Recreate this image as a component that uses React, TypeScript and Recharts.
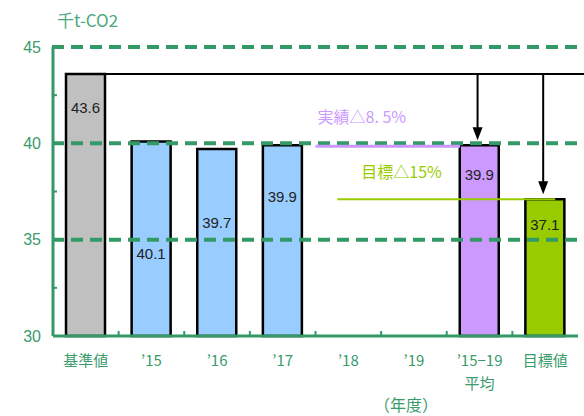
import React from 'react';
import {
  BarChart,
  Bar,
  XAxis,
  YAxis,
  Cell,
  LabelList,
  ReferenceLine,
} from 'recharts';

const categories = ['基準値', '’15', '’16', '’17', '’18', '’19', '’15−19 平均', '目標値'];
const emissions: (number | null)[] = [43.6, 40.1, 39.7, 39.9, null, null, 39.9, 37.1];
const barColors = ['#c0c0c0', '#99ccff', '#99ccff', '#99ccff', '#99ccff', '#99ccff', '#cc99ff', '#99cc00'];
const yTicks = [30, 32.5, 35, 37.5, 40, 42.5, 45];
const gridValues = [35, 40, 45];
const baseValue = 43.6;
const actualAvg = 39.9;
const targetValue = 37.1;

const data = categories.map((name, i) => ({ name, value: emissions[i] }));

const W = 584;
const H = 416;
const margin = { top: 47, right: 6, bottom: 0, left: 0 };
const yAxisWidth = 53;
const plotLeft = margin.left + yAxisWidth;
const band = (W - margin.right - plotLeft) / categories.length;
const barSize = 39;
const GREEN = '#339966';
const TEXT_GREEN = '#3a9b6b';
const jp = '"Noto Sans CJK JP", "Noto Sans", sans-serif';
const num = '"Liberation Sans", Arial, sans-serif';

// how far below the bar top each value label sits (as in the original)
const labelDy = [34, 112, 73, 51, 0, 0, 29, 25];

const XTick = (props: any) => {
  const { x, y, payload, index } = props;
  const lines = String(payload.value).split(' ');
  return (
    <g>
      {index < categories.length - 1 && (
        <line x1={x + band / 2} x2={x + band / 2} y1={y - 1} y2={y - 5} stroke={GREEN} strokeWidth={2} />
      )}
      {lines.map((l, i) => (
        <text
          key={i}
          x={x}
          y={y + 23 + i * 23}
          textAnchor="middle"
          dominantBaseline="central"
          fill={TEXT_GREEN}
          fontSize={15}
          fontFamily={jp}
        >
          {l}
        </text>
      ))}
    </g>
  );
};

const YTick = (props: any) => {
  const { x, y, payload } = props;
  if (payload.value % 5 !== 0) {
    return <line x1={x} x2={x + 4} y1={y} y2={y} stroke={GREEN} strokeWidth={2} />;
  }
  return (
    <text x={x - 12} y={y} textAnchor="end" dominantBaseline="central" fill={TEXT_GREEN} fontSize={16} fontFamily={num}>
      {payload.value}
    </text>
  );
};

const BarValue = (props: any) => {
  const { x, y, width, value } = props;
  if (value == null) return null;
  // category slot from the bar's position
  const slot = Math.round((x + width / 2 - plotLeft - band / 2) / band);
  return (
    <text
      x={x + width / 2}
      y={y + (labelDy[slot] ?? 20)}
      textAnchor="middle"
      dominantBaseline="central"
      fill="#222"
      fontSize={15}
      fontFamily={num}
    >
      {value}
    </text>
  );
};

const GridShape = (props: any) => (
  <line x1={props.x1 - 1} x2={W} y1={props.y1} y2={props.y1} stroke={GREEN} strokeWidth={4} strokeDasharray="12 7" />
);

const BaseLineShape = (props: any) => (
  <line x1={props.x1 + barSize / 2} x2={W} y1={props.y1} y2={props.y1} stroke="#000" strokeWidth={2} />
);

const ArrowShape = (props: any) => {
  const { x1, y1, y2 } = props;
  const tip = y2 - 5;
  const x = x1 - 2;
  return (
    <g>
      <line x1={x} x2={x} y1={y1} y2={tip - 10} stroke="#000" strokeWidth={2} />
      <path d={`M${x - 5},${tip - 13} L${x + 5},${tip - 13} L${x},${tip} Z`} fill="#000" />
    </g>
  );
};

const ActualShape = (props: any) => {
  const { x1, x2, y1 } = props;
  const start = x1 - band / 2;
  return (
    <g>
      <line x1={start} x2={x2 - barSize / 2} y1={y1 + 1} y2={y1 + 1} stroke="#cc99ff" strokeWidth={3} />
      <text x={start + 2} y={y1 - 29} fill="#cc99ff" fontSize={16} fontFamily={jp} dominantBaseline="central">
        実績△8. 5%
      </text>
    </g>
  );
};

const TargetShape = (props: any) => {
  const { x1, x2, y1 } = props;
  return (
    <g>
      <line x1={x1 - 11} x2={x2 + 10} y1={y1} y2={y1} stroke="#99cc00" strokeWidth={2} />
      <text x={x1 + 13} y={y1 - 28} fill="#99cc00" fontSize={16} fontFamily={jp} dominantBaseline="central">
        目標△15%
      </text>
    </g>
  );
};

export default function App() {
  return (
    <div style={{ position: 'absolute', left: 0, top: 0, width: W, height: H, background: '#fff' }}>
      <div
        style={{
          position: 'absolute',
          left: 57,
          top: 9,
          fontFamily: jp,
          fontSize: 17,
          color: '#4caa7c',
          lineHeight: '22px',
        }}
      >
        千t-CO2
      </div>
      <div
        style={{
          position: 'absolute',
          left: 374,
          top: 393,
          fontFamily: jp,
          fontSize: 16,
          color: TEXT_GREEN,
          lineHeight: '22px',
        }}
      >
        （年度）
      </div>
      <BarChart width={W} height={H} data={data} margin={margin} barSize={barSize}>
        <XAxis
          dataKey="name"
          height={80}
          interval={0}
          tickSize={0}
          tickMargin={0}
          tickLine={false}
          axisLine={{ stroke: GREEN, strokeWidth: 3 }}
          tick={<XTick />}
        />
        <YAxis
          width={yAxisWidth}
          domain={[30, 45]}
          ticks={yTicks}
          interval={0}
          tickSize={0}
          tickMargin={0}
          tickLine={false}
          axisLine={{ stroke: GREEN, strokeWidth: 3 }}
          tick={<YTick />}
        />
        {gridValues.map((v) => (
          <ReferenceLine key={v} y={v} shape={<GridShape />} />
        ))}
        <Bar dataKey="value" stroke="#000" strokeWidth={2.5} isAnimationActive={false}>
          {data.map((d, i) => (
            <Cell key={d.name} fill={barColors[i]} />
          ))}
          <LabelList dataKey="value" content={<BarValue />} />
        </Bar>
        <ReferenceLine
          segment={[
            { x: categories[0], y: baseValue },
            { x: categories[7], y: baseValue },
          ]}
          shape={<BaseLineShape />}
        />
        <ReferenceLine
          segment={[
            { x: categories[6], y: baseValue },
            { x: categories[6], y: actualAvg },
          ]}
          shape={<ArrowShape />}
        />
        <ReferenceLine
          segment={[
            { x: categories[7], y: baseValue },
            { x: categories[7], y: targetValue },
          ]}
          shape={<ArrowShape />}
        />
        <ReferenceLine
          segment={[
            { x: categories[4], y: actualAvg },
            { x: categories[6], y: actualAvg },
          ]}
          shape={<ActualShape />}
        />
        <ReferenceLine
          segment={[
            { x: categories[4], y: targetValue },
            { x: categories[7], y: targetValue },
          ]}
          shape={<TargetShape />}
        />
      </BarChart>
    </div>
  );
}
